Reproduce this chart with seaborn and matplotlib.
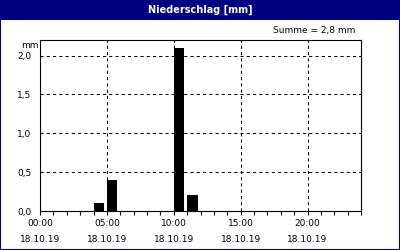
import matplotlib
matplotlib.use("Agg")
import matplotlib.pyplot as plt
from matplotlib.patches import Rectangle
import seaborn as sns
import pandas as pd

# data
hours = [4, 5, 10, 11]            # hour at start of interval
precip = [0.1, 0.4, 2.1, 0.2]     # mm per hour
xtick_hours = [0, 5, 10, 15, 20]
xtick_labels = ["00:00\n18.10.19", "05:00\n18.10.19", "10:00\n18.10.19",
                "15:00\n18.10.19", "20:00\n18.10.19"]
ytick_vals = [0.0, 0.5, 1.0, 1.5, 2.0]
ytick_labels = ["0,0", "0,5", "1,0", "1,5", "2,0"]
title = "Niederschlag [mm]"
summe_text = "Summe = 2,8 mm"
unit = "mm"

navy = "#000080"
sns.set_theme(style="white")
plt.rcParams["font.family"] = ["DejaVu Sans"]

df = pd.DataFrame({"center": [h + 0.4 for h in hours], "mm": precip})

fig = plt.figure(figsize=(4, 2.5), dpi=100)
fig.patch.set_facecolor("white")
ax = fig.add_axes([0.1, 0.156, 0.8025, 0.684])

sns.barplot(data=df, x="center", y="mm", native_scale=True, width=0.76,
            color="black", edgecolor="black", linewidth=0, errorbar=None,
            saturation=1, ax=ax)

ax.set_xlim(0, 24)
ax.set_ylim(0, 2.2)
ax.set_xticks(xtick_hours)
ax.set_xticklabels(xtick_labels, fontsize=6.5, linespacing=2.0, color="black")
ax.set_xticks(range(0, 25), minor=True)
ax.set_yticks(ytick_vals)
ax.set_yticklabels(ytick_labels, fontsize=6.5, color="black")
ax.set_xlabel("")
ax.set_ylabel("")
ax.tick_params(axis="x", which="both", direction="out", length=3, width=0.8,
               color="black", bottom=True, pad=3)
ax.tick_params(axis="y", which="both", length=0, pad=6)

ax.grid(True, which="major", color="black", linestyle=(0, (3, 3)), linewidth=0.75)
ax.set_axisbelow(False)
for s in ax.spines.values():
    s.set_visible(True)
    s.set_color("black")
    s.set_linewidth(0.8)

ax.text(-0.06, 0.965, unit, transform=ax.transAxes, fontsize=6.5,
        ha="left", va="center", color="black")
fig.text(355 / 400, 1 - 31 / 250, summe_text, fontsize=6.5, ha="right",
         va="center", color="black")

# title bar and frame
fig.add_artist(Rectangle((0, 1 - 20 / 250), 1, 20 / 250, transform=fig.transFigure,
                         facecolor=navy, edgecolor="none", zorder=0))
fig.add_artist(Rectangle((0, 0), 1, 1, transform=fig.transFigure, fill=False,
                         edgecolor=navy, linewidth=1.5, zorder=5))
fig.text(0.5, 1 - 10 / 250, title, fontsize=7, fontweight="bold", color="white",
         ha="center", va="center")

fig.savefig("out.png", dpi=100, facecolor=fig.get_facecolor())
